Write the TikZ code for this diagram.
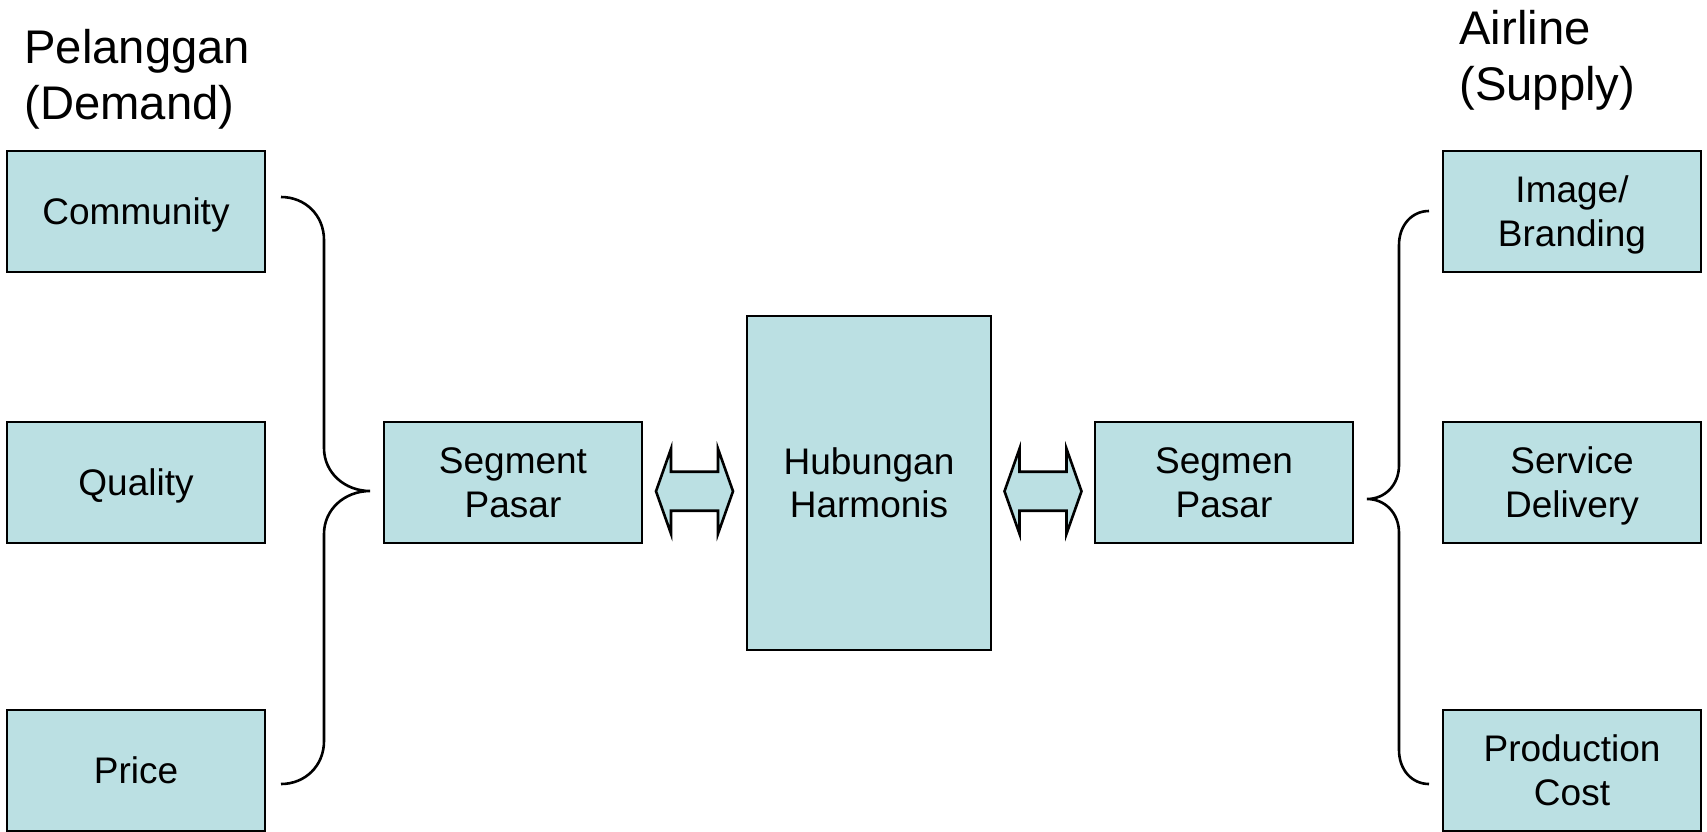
\documentclass[tikz,border=0pt]{standalone}
\usepackage{fontspec}
\setmainfont{Liberation Sans}
\usetikzlibrary{calc}
\definecolor{boxfill}{HTML}{BBE0E3}
% struts giving every box line the full ascent/descent of the font
\newcommand\topstrt{\rule{0pt}{0.905em}}
\newcommand\botstrt{\rule[-0.212em]{0pt}{0.212em}}
\begin{document}
\begin{tikzpicture}[x=0.5pt,y=-0.5pt,
  box/.style={draw=black, line width=1.3pt, fill=boxfill, rectangle,
    minimum width=129pt, minimum height=60.5pt, inner sep=0pt,
    align=center, font=\fontsize{18.5}{21.75}\selectfont},
  title/.style={anchor=base west, inner sep=0pt, font=\fontsize{23.6}{28}\selectfont},
  brace/.style={draw=black, line width=1.3pt},
  dblarrow/.pic={
    \filldraw[fill=boxfill, draw=black, line width=1.3pt, line join=miter]
      (-38.5,0) -- (-23.5,-42.5) -- (-23.5,-19.5) -- (23.5,-19.5) -- (23.5,-42.5)
      -- (38.5,0) -- (23.5,42.5) -- (23.5,19.5) -- (-23.5,19.5) -- (-23.5,42.5) -- cycle;
  }]
\useasboundingbox (0,0) rectangle (1707,831);

% column headings
\node[title] (pel1) at (24,63) {Pelanggan};
\node[title] (pel2) at (24,119) {(Demand)};
\node[title] (air1) at (1459,44) {Airline};
\node[title] (air2) at (1459,100) {(Supply)};

% demand side
\node[box] (community) at (136,211.5) {\topstrt Community\botstrt};
\node[box] (quality) at (136,482.5) {\topstrt Quality\botstrt};
\node[box] (price) at (136,770.5) {\topstrt Price\botstrt};

% centre
\node[box] (segL) at (513,482.5) {\topstrt Segment\\Pasar\botstrt};
\node[box, minimum width=122pt, minimum height=167pt] (hub) at (869,483) {\topstrt Hubungan\\Harmonis\botstrt};
\node[box] (segR) at (1224,482.5) {\topstrt Segmen\\Pasar\botstrt};

% supply side
\node[box] (image) at (1572,211.5) {\topstrt Image/\\Branding\botstrt};
\node[box] (service) at (1572,482.5) {\topstrt Service\\Delivery\botstrt};
\node[box] (production) at (1572,770.5) {\topstrt Production\\Cost\botstrt};

% two-way arrows between the segments and the centre
\pic at ($(segL.east)!0.5!(hub.west)+(0,8.5)$) {dblarrow};
\pic at ($(hub.east)!0.5!(segR.west)+(0,8.5)$) {dblarrow};

% left brace grouping demand factors
\draw[brace] (281,197) .. controls (305,197) and (324,215) .. (324,240)
  -- (324,448) .. controls (324,473) and (345,491) .. (370,491)
  .. controls (345,491) and (324,509) .. (324,534)
  -- (324,741) .. controls (324,766) and (305,784) .. (281,784);

% right brace grouping supply factors
\draw[brace] (1429,211) .. controls (1412,211) and (1399,225) .. (1399,245)
  -- (1399,465) .. controls (1399,485) and (1385,499) .. (1367,499)
  .. controls (1385,499) and (1399,513) .. (1399,533)
  -- (1399,750) .. controls (1399,770) and (1412,784) .. (1429,784);
\end{tikzpicture}
\end{document}
